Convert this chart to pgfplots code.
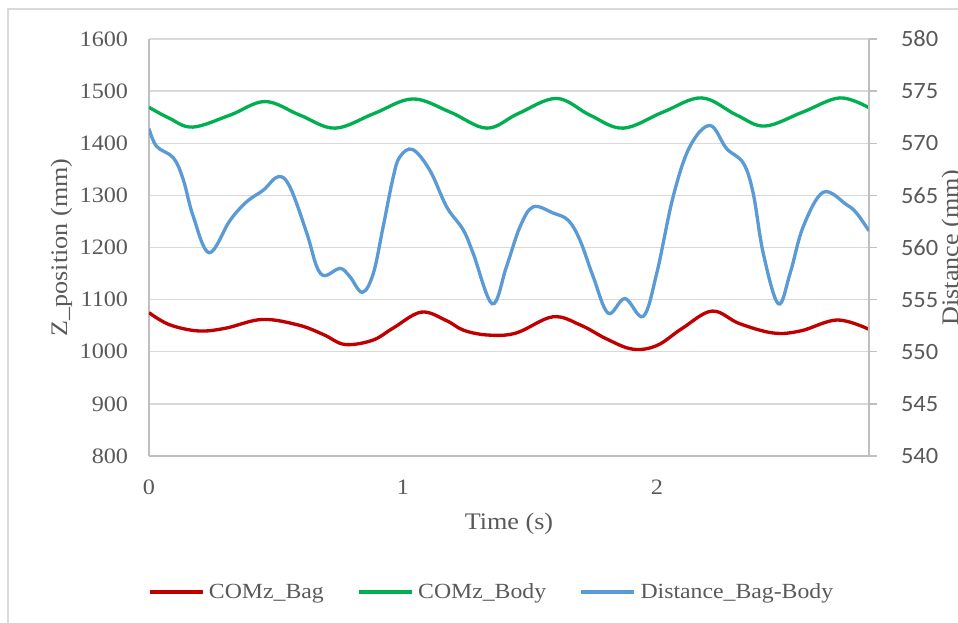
\documentclass[border=0pt]{standalone}
\usepackage{pgfplots}
\pgfplotsset{compat=1.18}
\usepackage{fontspec}
\setmainfont{Liberation Serif}[FakeStretch=1.1]
\newfontfamily\calibri{Carlito}[FakeStretch=1.05]
\definecolor{cred}{HTML}{C00000}
\definecolor{cgreen}{HTML}{00B050}
\definecolor{cblue}{HTML}{5B9BD5}
\definecolor{gridgray}{HTML}{D9D9D9}
\definecolor{axisgray}{HTML}{BFBFBF}
\definecolor{txt}{HTML}{595959}

\pgfplotstableread{
t mm
0 1075
0.08 1052
0.193 1040
0.30 1045
0.446 1062
0.59 1051
0.687 1033
0.771 1014
0.88 1022
0.96 1045
1.072 1076
1.17 1060
1.24 1041
1.337 1032
1.446 1036
1.59 1067
1.70 1051
1.80 1025
1.904 1005
2.0 1012
2.10 1045
2.217 1078
2.325 1054
2.458 1036
2.566 1040
2.71 1061
2.835 1043
}\bagdata

\pgfplotstableread{
t mm
0 1469
0.08 1448
0.172 1431
0.319 1454
0.457 1480
0.594 1454
0.732 1429
0.886 1457
1.038 1485
1.185 1460
1.33 1429
1.454 1457
1.605 1486
1.736 1454
1.867 1429
2.025 1460
2.176 1487
2.314 1454
2.425 1433
2.575 1460
2.72 1487
2.835 1468
}\bodydata

\pgfplotstableread{
t d
0 571.4
0.030 569.7
0.096 568.6
0.135 566.5
0.174 563.0
0.237 559.5
0.319 562.6
0.385 564.4
0.450 565.5
0.509 566.8
0.555 565.8
0.621 561.4
0.660 558.2
0.693 557.3
0.752 558.0
0.791 557.2
0.840 555.7
0.883 557.5
0.922 562.0
0.962 566.8
0.988 568.7
1.038 569.4
1.106 567.4
1.172 563.9
1.237 561.7
1.277 559.4
1.352 554.6
1.408 558.2
1.461 562.0
1.513 563.9
1.592 563.3
1.651 562.6
1.697 560.7
1.749 557.2
1.808 553.7
1.874 555.1
1.946 553.4
1.999 557.5
2.064 564.9
2.130 569.7
2.209 571.7
2.274 569.5
2.340 568.1
2.379 565.2
2.419 559.4
2.478 554.6
2.524 557.5
2.576 562.0
2.655 565.3
2.747 564.1
2.786 563.3
2.835 561.6
}\distdata

\begin{document}
\begin{tikzpicture}
\path[use as bounding box] (0,0) rectangle (718.5pt,-467.25pt);
\clip (0,0) rectangle (718.5pt,-467.25pt);
\draw[gridgray, line width=1pt] (6pt,-470pt) -- (6pt,-6.75pt) -- (720pt,-6.75pt);
\begin{axis}[
  at={(111.75pt,-342pt)}, anchor=south west,
  width=540pt, height=312.75pt, scale only axis,
  xmin=0, xmax=2.835, ymin=800, ymax=1600,
  xtick={0,1,2}, ytick distance=100,
  axis x line*=bottom, axis y line*=left,
  axis line style={draw=axisgray, line width=1pt, -},
  ymajorgrids, grid style={draw=gridgray, line width=1pt},
  major tick length=0pt, tick style={draw=none},
  /pgf/number format/assume math mode=true,
  /pgf/number format/1000 sep={},
  ticklabel style={font=\fontsize{16.5}{19}\selectfont, text=txt},
  yticklabel style={anchor=east, inner sep=0pt, xshift=-15.5pt},
  xticklabel style={anchor=north, inner sep=0pt, yshift=-17.5pt},
  xlabel={Time (s)}, ylabel={Z\_position (mm)},
  every axis x label/.style={at={(axis description cs:0.5,-0.163)}, anchor=center, font=\fontsize{17.8}{21}\selectfont, text=txt},
  every axis y label/.style={at={(axis description cs:-0.1217,0.5)}, anchor=center, rotate=90, font=\fontsize{17.8}{21}\selectfont, text=txt},
  clip=true,
]
\addplot[cred, line width=2.5pt, smooth, tension=0.6] table[x=t,y=mm] {\bagdata};
\addplot[cgreen, line width=2.5pt, smooth, tension=0.6] table[x=t,y=mm] {\bodydata};
\end{axis}
\begin{axis}[
  at={(111.75pt,-342pt)}, anchor=south west,
  width=540pt, height=312.75pt, scale only axis,
  xmin=0, xmax=2.835, ymin=540, ymax=580,
  ytick distance=5,
  axis x line=none, axis y line*=right,
  axis line style={draw=axisgray, line width=1pt, -},
  ytick style={draw=axisgray, line width=1pt},
  major tick length=6pt, tick align=outside,
  /pgf/number format/assume math mode=true,
  yticklabel style={font=\calibri\fontsize{17.5}{20}\selectfont, text=txt, anchor=west, inner sep=0pt},
  yticklabel={\hspace*{17.8pt}\pgfmathprintnumber{\tick}},
  ylabel={Distance (mm)},
  every axis y label/.style={at={(axis description cs:1.116,0.5)}, anchor=center, rotate=90, font=\fontsize{17.8}{21}\selectfont, text=txt},
  clip=true,
  legend columns=3,
  legend style={draw=none, fill=none, at={(axis description cs:-0.0014,-0.326)}, anchor=west,
    font=\fontsize{16.2}{19}\selectfont, text=txt, inner sep=0pt, outer sep=0pt,
    nodes={inner xsep=0pt, inner ysep=1pt},
    /tikz/every odd column/.append style={column sep=3.5pt},
    /tikz/every even column/.append style={column sep=25pt}},
  legend image code/.code={\draw[#1, line width=2.5pt] (0pt,0pt) -- (39.75pt,0pt);},
]
\addlegendimage{cred}
\addlegendentry{COMz\_Bag}
\addlegendimage{cgreen}
\addlegendentry{COMz\_Body}
\addplot[cblue, line width=2.5pt, smooth, tension=0.6] table[x=t,y=d] {\distdata};
\addlegendentry{Distance\_Bag-Body}
\end{axis}
\end{tikzpicture}
\end{document}
